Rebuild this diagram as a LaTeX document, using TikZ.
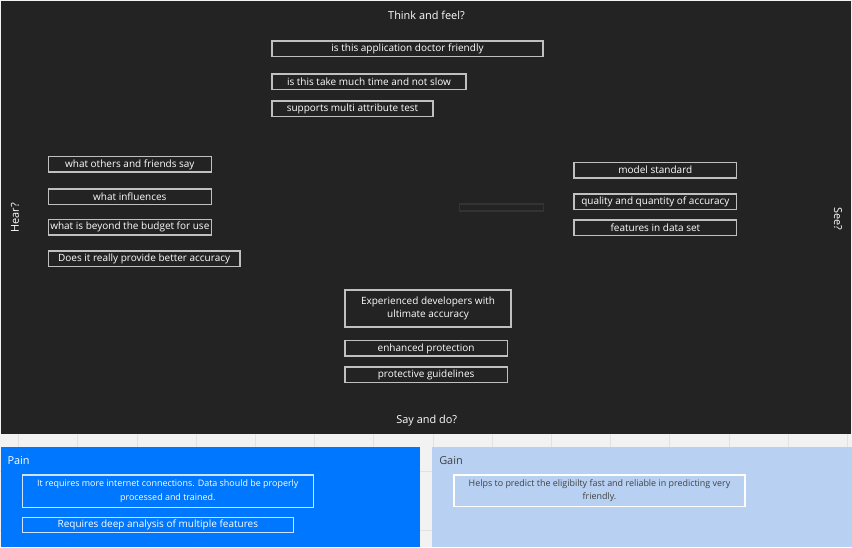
\documentclass[tikz,border=0pt]{standalone}
\usepackage{fontspec}
\setmainfont{Open Sans}
\usepackage{xcolor}
\usepackage{tikz}
\usetikzlibrary{positioning}
\definecolor{fondoosc}{RGB}{35, 35, 35}
\definecolor{grisborde}{RGB}{192, 192, 192}
\definecolor{grisfondo}{RGB}{242, 242, 242}
\definecolor{grislinea}{RGB}{226, 226, 226}
\definecolor{azuldolor}{RGB}{0, 119, 255}
\definecolor{azulganancia}{RGB}{184, 209, 243}
\definecolor{textoganancia}{RGB}{64, 64, 64}

\begin{document}
\begin{tikzpicture}[
  x=0.75pt, y=-0.75pt,
  caja/.style  = {
    rectangle, draw=grisborde, line width=1.1pt, inner sep=0pt, outer sep=0pt,
    text=white, align=center, minimum height=11.6pt,
    font=\fontsize{7.5}{10}\selectfont
  },
  cajadolor/.style = {caja, draw=white!80!azuldolor},
  cajagan/.style   = {caja, draw=white, text=textoganancia},
  largo/.style     = {font=\fontsize{6.7}{10}\selectfont},
  titulo/.style = {text=white, inner sep=0pt, font=\fontsize{8.2}{10}\selectfont},
  rejilla/.style = {draw=grislinea, line width=0.6pt}
]
\useasboundingbox (0,0) rectangle (852,547);

% Fondo y rejilla
\fill[grisfondo] (0,0) rectangle (852,547);
\foreach \gx in {0,...,14}
  \draw[rejilla] ({18.5+59.2*\gx},434) -- ({18.5+59.2*\gx},547);
\draw[rejilla] (0,471) -- (852,471);
\draw[rejilla] (0,530) -- (852,530);

% Mapa de empatia
\fill[fondoosc] (1,1) rectangle (851,434.3);
\node[titulo] (piensa) at (426.5,15)  {Think and feel?};
\node[titulo] (dice)   at (426.7,421) {Say and do?};
\node[titulo, rotate=90]  (oye) at (15,218)  {Hear?};
\node[titulo, rotate=-90] (ve)  at (838,219) {See?};

% Piensa y siente
\node[caja, anchor=north west, minimum width=203.25pt] (p1) at (272,41)
  {is this application doctor friendly};
\node[caja, below=13pt of p1.south west, anchor=north west, minimum width=145.5pt] (p2)
  {is this take much time and not slow};
\node[caja, below=8.8pt of p2.south west, anchor=north west, minimum width=120.75pt] (p3)
  {supports multi attribute test};

% Oye
\node[caja, anchor=north west, minimum width=122.25pt] (o1) at (48.3,156.7)
  {what others and friends say};
\node[caja, below=12.5pt of o1.south west, anchor=north west, minimum width=122.25pt] (o2)
  {what influences};
\node[caja, below=11.5pt of o2.south west, anchor=north west, minimum width=122.25pt] (o3)
  {what is beyond the budget for use};
\node[caja, below=12pt of o3.south west, anchor=north west, minimum width=143.75pt] (o4)
  {Does it really provide better accuracy};

% Ve
\node[caja, anchor=north west, minimum width=122pt] (v1) at (574,162.3)
  {model standard};
\node[caja, below=12pt of v1.south west, anchor=north west, minimum width=122pt] (v2)
  {quality and quantity of accuracy};
\node[caja, below=8pt of v2.south west, anchor=north west, minimum width=122pt] (v3)
  {features in data set};
\node[caja, draw=black!80, line width=0.8pt, minimum width=63pt, minimum height=5.25pt]
  (vacia) at (501.3,207.5) {};

% Dice y hace
\node[caja, anchor=north west, minimum width=124.5pt, minimum height=27.75pt] (d1)
  at (345,290) {Experienced developers with\\ultimate accuracy};
\node[caja, below=10.3pt of d1.south west, anchor=north west, minimum width=121.7pt] (d2)
  {enhanced protection};
\node[caja, below=8pt of d2.south west, anchor=north west, minimum width=121.7pt] (d3)
  {protective guidelines};

% Dolor
\fill[azuldolor] (1,447.3) rectangle (420,547);
\node[titulo, anchor=west] (dolor) at (7.3,461) {Pain};
\node[cajadolor, largo, anchor=north west, minimum width=218.25pt, minimum height=24.2pt]
  (dl1) at (22.3,475)
  {It requires more internet connections. Data should be properly\\processed and trained.};
\node[cajadolor, below=7.5pt of dl1.south west, anchor=north west, minimum width=203.25pt] (dl2)
  {Requires deep analysis of multiple features};

% Ganancia
\fill[azulganancia] (432.3,447.3) rectangle (852,547);
\node[titulo, anchor=west, text=textoganancia] (gan) at (439,461) {Gain};
\node[cajagan, largo, anchor=north west, minimum width=218.25pt, minimum height=23.8pt]
  (g1) at (454,475)
  {Helps to predict the eligibilty fast and reliable in predicting very\\friendly.};

\end{tikzpicture}
\end{document}
